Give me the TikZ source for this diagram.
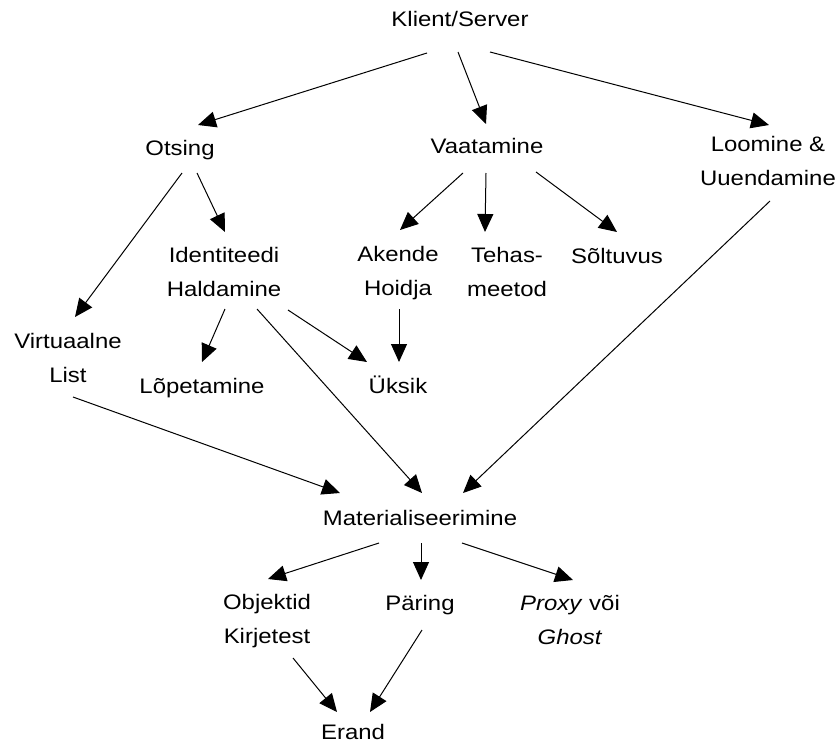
\documentclass[tikz,border=0pt]{standalone}
\usepackage{fontspec}
\setmainfont{Liberation Sans}[FakeStretch=1.14]
\usetikzlibrary{arrows.meta,calc}

\tikzset{
  lbl/.style={inner sep=0pt, anchor=base, align=center,
    font=\fontsize{21}{34}\selectfont},
  arr/.style={line width=1pt, -{Triangle[length=18pt,width=16pt]}},
}

\begin{document}
\begin{tikzpicture}[x=1pt,y=-1pt]
  \path[fill=white,use as bounding box] (0,0) rectangle (838,744);

  % pattern nodes (placed by the baseline of their last line)
  \node[lbl] (kl) at (460,27)  {Klient/Server};
  \node[lbl] (ot) at (180,155) {Otsing};
  \node[lbl] (va) at (487,153) {Vaatamine};
  \node[lbl] (lo) at (768,185) {Loomine \&\\Uuendamine};
  \node[lbl] (id) at (224,296) {Identiteedi\\Haldamine};
  \node[lbl] (ak) at (398,295) {Akende\\Hoidja};
  \node[lbl] (te) at (507,296) {Tehas-\\meetod};
  \node[lbl] (so) at (617,263) {Sõltuvus};
  \node[lbl] (vi) at (68,382)  {Virtuaalne\\List};
  \node[lbl] (lp) at (202,393) {Lõpetamine};
  \node[lbl] (uk) at (398,393) {Üksik};
  \node[lbl] (ma) at (420,525) {Materialiseerimine};
  \node[lbl] (ob) at (267,643) {Objektid\\Kirjetest};
  \node[lbl] (pa) at (420,610) {Päring};
  \node[lbl] (pr) at (570,644) {\textit{Proxy} või\\\textit{Ghost}};
  \node[lbl] (er) at (353,739) {Erand};

  % dependencies between patterns
  \draw[arr] ($(kl.base)+(-33,26)$) -- ($(ot.base)+(18,-30)$);
  \draw[arr] ($(kl.base)+(-2,25)$)  -- ($(va.base)+(-1,-29)$);
  \draw[arr] ($(kl.base)+(30,25)$)  -- ($(lo.base)+(1,-60)$);

  \draw[arr] ($(ot.base)+(17,18)$)  -- ($(id.base)+(1,-64)$);
  \draw[arr] ($(ot.base)+(2,18)$)   -- ($(vi.base)+(7,-65)$);

  \draw[arr] ($(va.base)+(-24,20)$) -- ($(ak.base)+(2,-65)$);
  \draw[arr] ($(va.base)+(-1,20)$)  -- ($(te.base)+(-22,-64)$);
  \draw[arr] ($(va.base)+(49,19)$)  -- ($(so.base)+(0,-31)$);

  \draw[arr] ($(lo.base)+(2,16)$)   -- ($(ma.base)+(43,-32)$);

  \draw[arr] ($(id.base)+(1,13)$)   -- ($(lp.base)+(0,-31)$);
  \draw[arr] ($(id.base)+(64,14)$)  -- ($(uk.base)+(-31,-31)$);
  \draw[arr] ($(id.base)+(33,13)$)  -- ($(ma.base)+(2,-32)$);
  \draw[arr] ($(ak.base)+(1,14)$)   -- ($(uk.base)+(1,-31)$);
  \draw[arr] ($(vi.base)+(5,15)$)   -- ($(ma.base)+(-80,-32)$);

  \draw[arr] ($(ma.base)+(-41,18)$) -- ($(ob.base)+(1,-64)$);
  \draw[arr] ($(ma.base)+(1,18)$)   -- ($(pa.base)+(1,-30)$);
  \draw[arr] ($(ma.base)+(42,18)$)  -- ($(pr.base)+(3,-64)$);

  \draw[arr] ($(ob.base)+(26,15)$)  -- ($(er.base)+(-16,-27)$);
  \draw[arr] ($(pa.base)+(2,20)$)   -- ($(er.base)+(17,-27)$);
\end{tikzpicture}
\end{document}
